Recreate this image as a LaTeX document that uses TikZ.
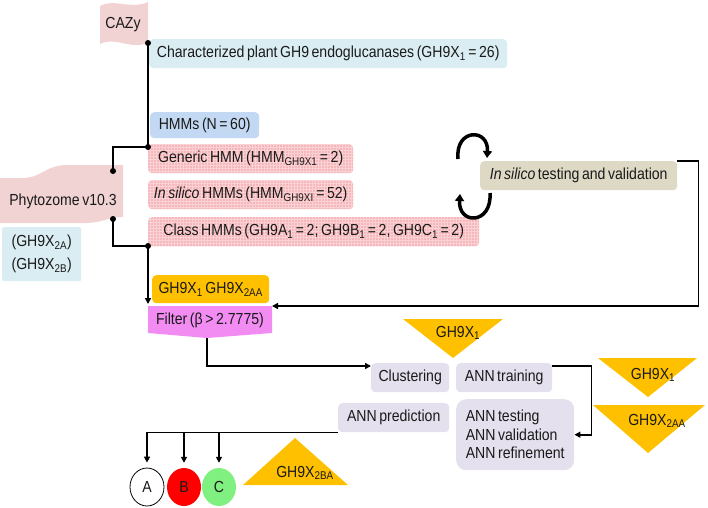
\documentclass[tikz,border=0pt]{standalone}
\usepackage{fontspec}
\setmainfont{Liberation Sans}[FakeStretch=0.88]
\usetikzlibrary{arrows.meta,patterns,shapes.geometric}
\definecolor{cflag}{HTML}{F1D3D3}
\definecolor{cpinkbox}{HTML}{F6B7BB}
\definecolor{cpinkgrid}{HTML}{FAD2D5}
\definecolor{clblue}{HTML}{DAEDF3}
\definecolor{cblue}{HTML}{C3D9F3}
\definecolor{corange}{HTML}{FFC000}
\definecolor{cmag}{HTML}{F28CF2}
\definecolor{clav}{HTML}{E4E0ED}
\definecolor{colive}{HTML}{DDD9C4}
\definecolor{cred}{HTML}{FF0000}
\definecolor{cgreen}{HTML}{80F080}
\definecolor{ctext}{HTML}{1A1A1A}
\newcommand\sbs[1]{\textsubscript{#1}}
\newcommand\dfont{\fontsize{16}{19}\selectfont\spaceskip=0.16em\relax}
\newcommand\dfontb{\fontsize{16}{18.5}\selectfont\spaceskip=0.16em\relax}
\newcommand\dfontc{\fontsize{16}{23}\selectfont\spaceskip=0.16em\relax}
\tikzset{
  basefont/.style={font=\dfont},
  box/.style={basefont, text=ctext, anchor=north west, inner sep=0pt, rounded corners=4pt, align=center},
  pinkbox/.style={box, fill=cpinkbox, postaction={pattern=grid, pattern color=cpinkgrid}},
  lavbox/.style={box, fill=clav},
  conn/.style={line width=1.8pt, black},
  arr/.style={conn, -{Triangle[length=6pt,width=6pt]}},
  dot/.style={circle, fill=black, inner sep=0pt, minimum size=6pt},
  circarr/.style={line width=3.5pt, -{Triangle[length=7pt,width=9pt]}},
  lbl/.style={basefont, text=ctext, inner sep=0pt},
  oval/.style={ellipse, basefont, text=ctext, minimum width=34pt, minimum height=38pt, inner sep=0pt}
}
\begin{document}
\begin{tikzpicture}[x=1pt,y=-1pt]
\useasboundingbox (0,0) rectangle (708,507);
% flags
\fill[cflag] (100,6) .. controls (115,-2) and (130,10) .. (148,2) -- (148,43) .. controls (130,50) and (115,36) .. (100,44) -- cycle;
\node[lbl] (cazy) at (123,25) {CAZy};
\fill[cflag] (0,178) -- (22,178) .. controls (42,178) and (45,165) .. (68,165) -- (123,165) -- (123,217) .. controls (108,217) and (102,223) .. (85,223) -- (0,223) -- cycle;
\node[lbl] (phyto) at (63,201) {Phytozome v10.3};
% boxes
\node[box, fill=clblue, minimum width=358pt, minimum height=29pt] (char) at (149,39) {Characterized plant GH9 endoglucanases (GH9X\sbs{1} = 26)};
\node[box, fill=cblue, minimum width=109pt, minimum height=26pt] (hmms) at (150,112) {HMMs (N = 60)};
\node[pinkbox, minimum width=205pt, minimum height=29pt] (gen) at (148,144) {Generic HMM (HMM\sbs{GH9X1} = 2)};
\node[pinkbox, minimum width=205pt, minimum height=29pt] (insil) at (148,180) {\textit{In silico} HMMs (HMM\sbs{GH9XI} = 52)};
\node[pinkbox, minimum width=331pt, minimum height=29pt] (cls) at (148,217) {Class HMMs (GH9A\sbs{1} = 2; GH9B\sbs{1} = 2, GH9C\sbs{1} = 2)};
\node[box, fill=clblue, rounded corners=2pt, minimum width=79pt, minimum height=54pt, font=\dfontc] (gh2) at (2,227) {(GH9X\sbs{2A})\\(GH9X\sbs{2B})};
\node[box, fill=colive, minimum width=197pt, minimum height=29pt] (test) at (480,161) {\textit{In silico} testing and validation};
\node[box, fill=corange, minimum width=117pt, minimum height=28pt] (orange) at (152,275) {GH9X\sbs{1} GH9X\sbs{2AA}};
% filter pentagon
\coordinate (fNW) at (148,306);
\coordinate (fNE) at (272,306);
\coordinate (fS) at (207,338);
\fill[cmag] (fNW) -- (fNE) -- (272,333) -- (fS) -- (148,333) -- cycle;
\node[lbl] (filt) at (210,320) {Filter (β > 2.7775)};
% lower boxes
\node[lavbox, minimum width=78pt, minimum height=29pt] (clus) at (371,363) {Clustering};
\node[lavbox, minimum width=96pt, minimum height=29pt] (train) at (456,363) {ANN training};
\node[lavbox, minimum width=111pt, minimum height=29pt] (pred) at (338,403) {ANN prediction};
\node[lavbox, rounded corners=10pt, minimum width=118pt, minimum height=71pt, align=left, font=\dfontb] (annt) at (456,399) {ANN testing\\ANN validation\\ANN refinement};
% circles
\node[oval, draw=black, line width=0.8pt, fill=white] (A) at (147,487) {A};
\node[oval, fill=cred] (B) at (184,487) {B};
\node[oval, fill=cgreen] (C) at (219,487) {C};
% triangles
\fill[corange] (403,319) -- (503,319) -- (453,358) -- cycle;
\node[lbl] (t1) at (458,333) {GH9X\sbs{1}};
\fill[corange] (598,358) -- (697,358) -- (648,397) -- cycle;
\node[lbl] (t2) at (653,375) {GH9X\sbs{1}};
\fill[corange] (593,405) -- (705,405) -- (648,453) -- cycle;
\node[lbl] (t3) at (657,421) {GH9X\sbs{2AA}};
\fill[corange] (295,438) -- (348,485) -- (243,485) -- cycle;
\node[lbl] (t4) at (305,473) {GH9X\sbs{2BA}};
% circular arrows
\draw[circarr] (458,159) .. controls (455,128) and (489,128) .. (487,158);
\draw[circarr] (490,193) .. controls (492,225) and (458,225) .. (460,194);
% connectors
\coordinate (d1) at (148,43);
\coordinate (d2) at (148,147);
\coordinate (d3) at (113,171);
\coordinate (d4) at (113,219);
\coordinate (d5) at (148,246);
\draw[conn] (d1) -- (d2) -| (d3);
\draw[conn] (d4) |- (d5);
\draw[arr, shorten >=2pt] (d5) -- (fNW);
\foreach \d in {d1,d2,d3,d4,d5} \node[dot] at (\d) {};
\draw[arr] (fS) |- ([yshift=-3pt]clus.north west);
\draw[arr] (test.north east) -- ++(21,0) |- (fNE);
\draw[arr] ([yshift=-3pt]train.north east) -- ++(39,0) |- (annt.east);
\draw[arr, shorten >=5pt] (pred.south west) -| (A.north);
\draw[arr, shorten >=5pt] (B.north |- pred.south) -- (B.north);
\draw[arr, shorten >=5pt] (C.north |- pred.south) -- (C.north);
\end{tikzpicture}
\end{document}
